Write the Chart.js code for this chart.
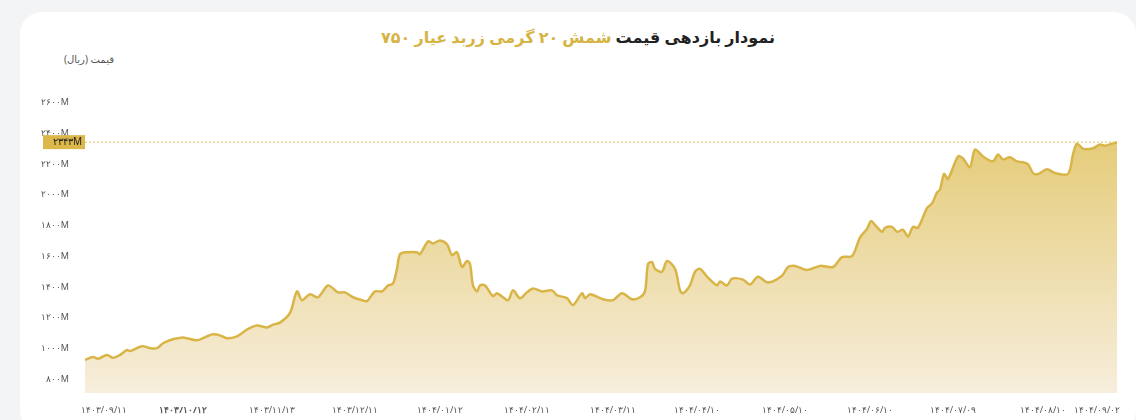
<!DOCTYPE html>
<html>
<head>
<meta charset="utf-8">
<script src="https://cdn.jsdelivr.net/npm/chart.js@4.4.1/dist/chart.umd.min.js"></script>
<style>
  body { margin: 0; background: #f3f4f6; font-family: "Noto Sans", "DejaVu Sans", sans-serif; }
  .card { position: absolute; left: 20px; top: 12px; width: 1116px; height: 420px; background: #fff; border-radius: 22px; }
  .title { position: absolute; left: 0; width: 1116px; top: 14px; text-align: center; direction: rtl; font-size: 16px; font-weight: bold; color: #222; }
  .title span { color: #d6b443; }
  .ytitle { position: absolute; left: 44px; top: 40px; font-size: 10px; color: #555; direction: rtl; }
  #wrap { position: absolute; left: 0; top: 48px; width: 1110px; height: 360px; }
</style>
</head>
<body>
<div class="card">
  <div class="title">نمودار بازدهی قیمت <span>شمش ۲۰ گرمی زربد عیار ۷۵۰</span></div>
  <div class="ytitle">قیمت (ریال)</div>
  <div id="wrap"><canvas id="myChart"></canvas></div>
</div>
<script>
// position along the time axis (trading steps) and price in million rial
let steps = [0,8,13,22,28,35,42,45,57,65,72,78,88,93,98,112,122,128,135,142,152,162,172,182,188,195,205,212,217,225,233,243,253,260,268,277,282,290,297,303,308,312,315,322,332,335,343,348,355,362,367,372,377,382,385,388,392,395,400,408,412,423,428,435,442,448,457,467,472,482,488,497,500,505,518,528,537,547,555,560,563,567,570,577,582,590,595,598,605,610,615,622,632,635,642,647,658,665,673,683,697,703,710,722,735,748,757,767,775,782,786,790,797,800,807,812,818,823,828,833,842,847,852,855,859,863,873,878,885,890,898,908,913,918,925,932,938,943,948,953,962,970,983,988,992,998,1007,1015,1020,1032];
let prices = [927,946,934,959,940,959,991,984,1016,1003,1003,1035,1061,1067,1073,1054,1080,1093,1086,1067,1080,1124,1150,1137,1156,1169,1232,1372,1315,1353,1334,1411,1366,1366,1334,1315,1309,1372,1372,1411,1423,1519,1614,1627,1627,1614,1697,1684,1703,1678,1608,1627,1531,1570,1550,1411,1372,1411,1411,1341,1360,1315,1379,1328,1366,1391,1372,1379,1347,1328,1283,1360,1328,1353,1321,1315,1360,1321,1334,1372,1550,1563,1519,1500,1570,1519,1379,1360,1411,1500,1519,1468,1411,1436,1411,1455,1449,1417,1468,1430,1474,1531,1538,1512,1538,1531,1595,1601,1722,1779,1830,1805,1760,1786,1792,1760,1773,1729,1792,1786,1913,1945,2015,2034,2136,2104,2250,2237,2180,2295,2250,2218,2263,2231,2244,2218,2212,2199,2142,2136,2167,2142,2136,2263,2333,2301,2301,2327,2320,2343];
let tickSteps = [19,98,187,270,355,442,528,612,700,785,868,958,1012];
let tickLabels = ["۱۴۰۳/۰۹/۱۱","۱۴۰۳/۱۰/۱۲","۱۴۰۳/۱۱/۱۳","۱۴۰۳/۱۲/۱۱","۱۴۰۴/۰۱/۱۲","۱۴۰۴/۰۲/۱۱","۱۴۰۴/۰۳/۱۱","۱۴۰۴/۰۴/۱۰","۱۴۰۴/۰۵/۱۰","۱۴۰۴/۰۶/۱۰","۱۴۰۴/۰۷/۰۹","۱۴۰۴/۰۸/۱۰","۱۴۰۴/۰۹/۰۲"];
let yTicks = [800,1000,1200,1400,1600,1800,2000,2200,2400,2600];
let lastPrice = 2343;

function fa(n) {
    return String(n).replace(/\d/g, d => "۰۱۲۳۴۵۶۷۸۹"[d]);
}

// dotted line + gold badge for the latest price
let lastLine = {
    id: 'lastLine',
    afterDraw(chart) {
        let c = chart.ctx, a = chart.chartArea;
        let y = chart.scales.y.getPixelForValue(lastPrice);
        c.save();
        c.strokeStyle = '#e2c252';
        c.lineWidth = 1;
        c.setLineDash([2, 2]);
        c.beginPath(); c.moveTo(a.left, y); c.lineTo(a.right, y); c.stroke();
        c.setLineDash([]);
        c.fillStyle = '#dcb84a';
        c.fillRect(a.left - 42, y - 7, 42, 14);
        c.fillStyle = '#222';
        c.font = '10px "Noto Sans"';
        c.textAlign = 'right'; c.textBaseline = 'middle';
        c.fillText(fa(lastPrice) + 'M', a.left - 3, y);
        c.restore();
    }
};

let myChart = document.getElementById("myChart").getContext("2d");
new Chart(myChart, {
    type: 'line',
    data: {
        datasets: [{
            data: steps.map((s, i) => ({ x: s, y: prices[i] })),
            borderColor: '#d9b548',
            borderWidth: 2.5,
            pointRadius: 0,
            tension: 0.3,
            fill: 'start',
            backgroundColor: ctx => {
                let a = ctx.chart.chartArea;
                if (!a) return 'rgba(226,196,99,0.5)';
                let g = ctx.chart.ctx.createLinearGradient(0, a.top, 0, a.bottom);
                g.addColorStop(0, '#e0c360');
                g.addColorStop(1, '#f7eedc');
                return g;
            }
        }]
    },
    options: {
        responsive: true,
        maintainAspectRatio: false,
        animation: false,
        layout: { padding: { top: 10, right: 13 } },
        plugins: { legend: { display: false }, tooltip: { enabled: false } },
        scales: {
            x: {
                type: 'linear', min: 0, max: 1032,
                grid: { display: false }, border: { display: false },
                afterBuildTicks: s => { s.ticks = tickSteps.map(v => ({ value: v })); },
                ticks: {
                    autoSkip: false, maxRotation: 0, color: '#555', padding: 4,
                    font: ctx => ({ family: 'Noto Sans', size: 9, weight: ctx.index === 1 ? 'bold' : 'normal' }),
                    callback: (v, i) => tickLabels[i]
                }
            },
            y: {
                min: 710, max: 2790,
                grid: { display: false }, border: { display: false },
                afterBuildTicks: s => { s.ticks = yTicks.map(v => ({ value: v })); },
                afterFit: s => { s.width = 65; },
                ticks: {
                    color: '#555', padding: 8,
                    font: { family: 'Noto Sans', size: 9 },
                    callback: v => fa(v) + 'M'
                }
            }
        }
    },
    plugins: [lastLine]
});
</script>
</body>
</html>
